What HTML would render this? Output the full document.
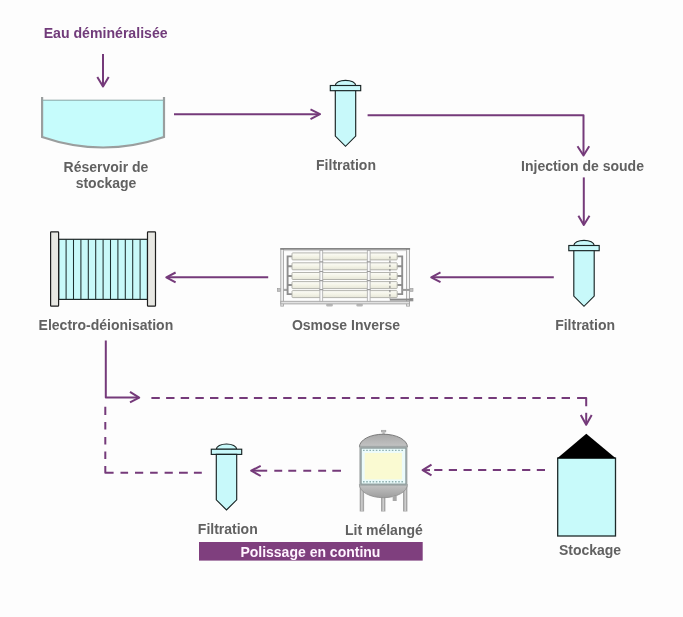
<!DOCTYPE html>
<html><head><meta charset="utf-8">
<style>
html,body{margin:0;padding:0;background:#fdfdfd;}
svg{display:block;will-change:transform;}
text{font-family:"Liberation Sans",sans-serif;font-weight:bold;font-size:14px;}
.lbl{fill:#616161;}
.pl{stroke:#753a7a;stroke-width:2;fill:none;stroke-linejoin:round;}
.f{fill:#c8f9fa;stroke:#182424;stroke-width:1.15;}
</style></head>
<body>
<svg width="683" height="617" viewBox="0 0 683 617">
<defs>
  <g id="filt">
    <path class="f" d="M5.3,0.2 A10.2,5.2 0 0 1 25.7,0.2 Z"/>
    <rect class="f" x="0.3" y="0.2" width="30.4" height="5.2"/>
    <path class="f" d="M5.3,5.4 V50.8 L15.5,61 L25.7,50.8 V5.4 Z"/>
  </g>
  <linearGradient id="gdome" x1="0" y1="0" x2="0" y2="1">
    <stop offset="0" stop-color="#a8a8a8"/><stop offset="0.8" stop-color="#bebebe"/><stop offset="1" stop-color="#c8c8c8"/>
  </linearGradient>
  <linearGradient id="gdome2" x1="0" y1="0" x2="0" y2="1">
    <stop offset="0" stop-color="#c4c4c4"/><stop offset="1" stop-color="#9e9e9e"/>
  </linearGradient>
  <linearGradient id="gtube" x1="0" y1="0" x2="0" y2="1">
    <stop offset="0" stop-color="#fcfcf8"/><stop offset="0.5" stop-color="#f4f4e7"/><stop offset="1" stop-color="#e6e6d8"/>
  </linearGradient>
</defs>

<!-- Eau deminéralisée -->
<text x="43.7" y="37.8" fill="#713b7a" style="font-size:14.12px">Eau déminéralisée</text>
<path class="pl" d="M103,54 V86"/>
<path class="pl" d="M97.3,77 L103,86.5 L108.7,77"/>

<!-- Reservoir tank -->
<path d="M42.1,100 H164 V137 Q103,158 42.1,137 Z" fill="#c6fcfc"/>
<path d="M42.1,97 V137 Q103,158 164,137 V97" fill="none" stroke="#9a9e9e" stroke-width="2.2"/>
<path d="M42.1,100.2 H164" stroke="#8aa6a6" stroke-width="1"/>
<text class="lbl" x="106" y="172" text-anchor="middle">Réservoir de</text>
<text class="lbl" x="106" y="188.3" text-anchor="middle">stockage</text>

<!-- arrow to filter1 -->
<path class="pl" d="M174,114.2 H319"/>
<path class="pl" d="M310.5,109.3 L320,114.2 L310.5,119.2"/>

<!-- filter 1 -->
<use href="#filt" x="330" y="85.3"/>
<text class="lbl" x="346" y="170" text-anchor="middle">Filtration</text>

<!-- filter1 -> injection -->
<path class="pl" d="M367.6,115.2 H583.5 V155"/>
<path class="pl" d="M577.5,146.3 L583.5,155.5 L589.2,146.3"/>
<text class="lbl" x="582.5" y="170.5" text-anchor="middle">Injection de soude</text>
<path class="pl" d="M583.8,177.4 V224.5"/>
<path class="pl" d="M578.4,215.8 L583.8,225 L589.5,215.8"/>

<!-- filter 2 -->
<use href="#filt" x="568.5" y="245.3"/>
<text class="lbl" x="585.1" y="329.8" text-anchor="middle">Filtration</text>

<!-- filter2 -> OI -->
<path class="pl" d="M553.8,277.3 H432"/>
<path class="pl" d="M440.5,272.4 L431.2,277.3 L440.5,282.2"/>

<!-- OI unit -->
<g>
  <!-- stubs -->
  <rect x="277.3" y="288.4" width="3.4" height="3" fill="#c0c0c0" stroke="#9a9a9a" stroke-width="0.6"/>
  <path d="M283.4,289.9 H287.6" stroke="#a8a8a8" stroke-width="2.2"/>
  <rect x="409.8" y="288.4" width="3.2" height="3" fill="#c0c0c0" stroke="#9a9a9a" stroke-width="0.6"/>
  <rect x="409.8" y="298.4" width="3.2" height="2.6" fill="#b0b0b0" stroke="#8a8a8a" stroke-width="0.6"/>
  <!-- feet -->
  <rect x="326.2" y="303.4" width="6.6" height="3" rx="1.2" fill="#b8b8b8"/>
  <rect x="356.4" y="303.4" width="6.4" height="3" rx="1.2" fill="#b8b8b8"/>
  <!-- frame -->
  <rect x="280.8" y="248.7" width="2.6" height="57.4" fill="#f3f3f3" stroke="#a3a3a3" stroke-width="0.9"/>
  <rect x="406.6" y="248.7" width="2.9" height="57.4" fill="#f3f3f3" stroke="#a3a3a3" stroke-width="0.9"/>
  <rect x="280.8" y="301.3" width="128.7" height="2.6" fill="#e2e2e2" stroke="#a3a3a3" stroke-width="0.9"/>
  <path d="M280.3,248.9 H410.1" stroke="#858585" stroke-width="1.6"/>
  <path d="M283.4,250.6 H406.6" stroke="#c6c6c6" stroke-width="0.8"/>
  <!-- manifolds -->
  <path d="M292,256.4 H287.6 V294.1 H292" fill="none" stroke="#8e8e8e" stroke-width="1.9"/>
  <path d="M287.6,266.3 H292 M287.6,276.0 H292 M287.6,285.1 H292" stroke="#8e8e8e" stroke-width="2"/>
  <path d="M397,256.4 H402.2 V294.1 H397" fill="none" stroke="#8e8e8e" stroke-width="1.9"/>
  <path d="M402.2,266.3 H397 M402.2,276.0 H397 M402.2,285.1 H397" stroke="#8e8e8e" stroke-width="2"/>
  <path d="M402.2,289.9 H410" stroke="#9a9a9a" stroke-width="2"/>
  <!-- tubes -->
  <rect x="292" y="252.9" width="105.2" height="7" rx="0.8" fill="url(#gtube)" stroke="#adada6" stroke-width="0.9"/>
  <rect x="292" y="262.8" width="105.2" height="7" rx="0.8" fill="url(#gtube)" stroke="#adada6" stroke-width="0.9"/>
  <rect x="292" y="272.5" width="105.2" height="7" rx="0.8" fill="url(#gtube)" stroke="#adada6" stroke-width="0.9"/>
  <rect x="292" y="281.6" width="105.2" height="7" rx="0.8" fill="url(#gtube)" stroke="#adada6" stroke-width="0.9"/>
  <rect x="292" y="290.6" width="105.2" height="7" rx="0.8" fill="url(#gtube)" stroke="#adada6" stroke-width="0.9"/>
  <!-- dividers -->
  <rect x="319.9" y="250.4" width="2.8" height="50.9" fill="#fafafa" stroke="#a8a8a8" stroke-width="0.8"/>
  <rect x="367.3" y="250.4" width="2.8" height="50.9" fill="#fafafa" stroke="#a8a8a8" stroke-width="0.8"/>
  <path d="M319.4,261.8 H323.2 M366.8,261.8 H370.6 M319.4,271.5 H323.2 M366.8,271.5 H370.6 M319.4,280.6 H323.2 M366.8,280.6 H370.6 M319.4,289.6 H323.2 M366.8,289.6 H370.6" stroke="#9c9c9c" stroke-width="1.2"/>
  <path d="M389.9,256.4 V299" stroke="#8a8a8a" stroke-width="1.2" stroke-dasharray="2.2 2"/>
  <path d="M389.8,299.6 H412.8" stroke="#8a8a8a" stroke-width="2"/>
</g>
<text class="lbl" x="346" y="330" text-anchor="middle">Osmose Inverse</text>

<!-- OI -> EDI -->
<path class="pl" d="M268.2,277.3 H167"/>
<path class="pl" d="M175.6,272.5 L166.3,277.3 L175.6,282.4"/>

<!-- EDI -->
<rect x="58.7" y="239.3" width="88.8" height="60.1" fill="#c8f9f9" stroke="#1e2828" stroke-width="1.2"/>
<path d="M66.1,239.3 V299.4 M73.5,239.3 V299.4 M80.9,239.3 V299.4 M88.3,239.3 V299.4 M95.7,239.3 V299.4 M103.1,239.3 V299.4 M110.5,239.3 V299.4 M117.9,239.3 V299.4 M125.3,239.3 V299.4 M132.7,239.3 V299.4 M140.1,239.3 V299.4" stroke="#1f3030" stroke-width="1.05"/>
<rect x="50.6" y="231.9" width="8" height="74.3" rx="0.6" fill="#e8e8e3" stroke="#1e1e1e" stroke-width="1.2"/>
<rect x="147.5" y="231.9" width="8" height="74.3" rx="0.6" fill="#e8e8e3" stroke="#1e1e1e" stroke-width="1.2"/>
<text class="lbl" x="105.9" y="329.9" text-anchor="middle">Electro-déionisation</text>

<!-- EDI down -->
<path class="pl" d="M105.8,340.5 V397.6 H138.5"/>
<path class="pl" d="M130,391.8 L139.2,397.6 L130,402.4"/>
<path class="pl" d="M151.4,398H159.8 M166.1,398H174.5 M180.7,398H189.1 M195.4,398H203.8 M210.0,398H218.4 M224.7,398H233.1 M239.3,398H247.7 M253.9,398H262.3 M268.6,398H277.0 M283.2,398H291.6 M297.9,398H306.3 M312.6,398H320.9 M327.2,398H335.6 M341.9,398H350.2 M356.5,398H364.9 M371.1,398H379.5 M385.8,398H394.2 M400.5,398H408.9 M415.1,398H423.5 M429.8,398H438.1 M444.4,398H452.8 M459.1,398H467.5 M473.7,398H482.1 M488.4,398H496.8 M503.0,398H511.4 M517.6,398H526.0 M532.3,398H540.7 M547.0,398H555.4 M561.6,398H570.0"/>
<path class="pl" d="M577.1,398 H586.2 V406.2"/>
<path class="pl" d="M586.2,412.8 V424"/>
<path class="pl" d="M580.8,415 L586.2,424.8 L591.7,415"/>

<!-- dashed left loop -->
<path class="pl" d="M105.3,406.7V415 M105.3,421.9V429.4 M105.3,437V444.6 M105.3,451.5V459.1 M120.5,472.8H128.1 M135,472.8H143.2 M150.1,472.8H157.7 M164.6,472.8H172.8 M179,472.8H187.8 M193.9,472.8H201.8"/>
<path class="pl" d="M105.3,466 V472.8 H113.6"/>

<!-- Stockage -->
<rect x="557.7" y="458" width="57.8" height="78" fill="#c8fafa" stroke="#1e2a2a" stroke-width="1.3"/>
<path d="M557,458.6 L586.3,433.8 L616,458.6 Z" fill="#000"/>
<text class="lbl" x="590" y="554.8" text-anchor="middle">Stockage</text>

<!-- stockage -> lit -->
<path class="pl" d="M434.2,470H442.4 M448.8,470H457.0 M463.5,470H471.7 M478.1,470H486.3 M492.8,470H501.0 M507.4,470H515.6 M522.1,470H530.3 M536.8,470H545.0"/>
<path class="pl" d="M423.5,470.1 H430"/>
<path class="pl" d="M431.5,464.6 L422.6,470.1 L431.5,475.4"/>

<!-- Lit mélangé -->
<g>
  <path d="M361.9,486 V511.5 M383.2,486 V511.5 M405.2,486 V511.5" stroke="#a5a5a5" stroke-width="4.4"/>
  <path d="M361.9,486 V511.5 M383.2,486 V511.5 M405.2,486 V511.5" stroke="#d2d2d2" stroke-width="1.4"/>
  <rect x="381.3" y="430.2" width="4.6" height="1.8" fill="#b8b8b8" stroke="#999" stroke-width="0.5"/>
  <rect x="382.4" y="431.5" width="2.4" height="4" fill="#bdbdbd"/>
  <path d="M359.4,447 A24,12.8 0 0 1 407.4,447 Z" fill="url(#gdome)" stroke="#6e6e6e" stroke-width="0.9"/>
  <path d="M359.4,484.5 A24,13.2 0 0 0 407.4,484.5 Z" fill="url(#gdome2)" stroke="#8e8e8e" stroke-width="0.8"/>
  <rect x="392.7" y="496" width="4" height="5" fill="#a8a8a8"/>
  <rect x="359.4" y="445.8" width="48" height="40" fill="#a2a8a8"/>
  <rect x="361.2" y="448.2" width="44.6" height="35.8" fill="#ecfbfb" stroke="#8a9c9c" stroke-width="0.9"/>
  <path d="M363,450.4 H404 M363,481.8 H404" stroke="#90b2b2" stroke-width="1.4" stroke-dasharray="1.6 1.6"/>
  <rect x="364.7" y="452.9" width="37.2" height="26.5" fill="#fafad2"/>
</g>
<text class="lbl" x="383.9" y="534.6" text-anchor="middle">Lit mélangé</text>

<!-- lit -> filter 3 -->
<path class="pl" d="M274.3,470.7H282.2 M288.3,470.7H296.2 M303.3,470.7H311.2 M318.2,470.7H326.1 M332.3,470.7H341"/>
<path class="pl" d="M267.2,470.7 H252"/>
<path class="pl" d="M260.7,465.8 L251.2,470.7 L260.7,476"/>

<!-- filter 3 -->
<use href="#filt" x="211" y="449"/>
<text class="lbl" x="227.8" y="533.7" text-anchor="middle">Filtration</text>

<!-- banner -->
<rect x="199" y="542" width="223.7" height="18.6" fill="#7f3f7e"/>
<text x="310.4" y="556.7" text-anchor="middle" fill="#fff4ff">Polissage en continu</text>
</svg>
</body></html>
